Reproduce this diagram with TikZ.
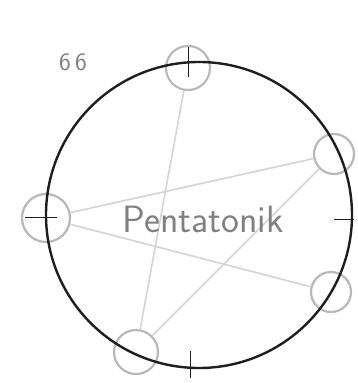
\documentclass[tikz,border=0pt]{standalone}
\usepackage{fontspec}
\usepackage{tikz}
\usetikzlibrary{positioning}

\definecolor{pencil}{HTML}{B8B8B8}
\definecolor{faint}{HTML}{D4D4D4}
\definecolor{ink}{HTML}{1E1E1E}
\definecolor{script}{HTML}{808080}

\tikzset{
	tone/.style={circle, draw=pencil, line width=2.2pt, minimum size=44pt, inner sep=0pt},
	chord/.style={faint, line width=1.6pt},
	tick/.style={ink, line width=1pt}
}

\begin{document}
\begin{tikzpicture}[x=1pt,y=-1pt]
	\useasboundingbox (0,0) rectangle (358,383);
	
	% the five tones
	\node[tone] (top) at (188,68) {};
	\node[tone, minimum size=40pt] (ur) at (334,154) {};
	\node[tone, minimum size=48pt] (lft) at (46,218) {};
	\node[tone, minimum size=40pt] (lr) at (331,292) {};
	\node[tone] (bl) at (136,352) {};
	
	% open star
	\draw[chord] (top) -- (bl);
	\draw[chord] (bl) -- (ur);
	\draw[chord] (ur) -- (lft);
	\draw[chord] (lft) -- (lr);
	
	% main circle
	\draw[ink, line width=2.4pt] (199,215) circle (153);
	
	% ticks
	\coordinate (t1) at (188,47);
	\coordinate (t2) at (188,77);
	\draw[tick] (t1) -- (t2);
	\coordinate (l1) at (25,217);
	\coordinate (l2) at (57,217);
	\draw[tick] (l1) -- (l2);
	\coordinate (r1) at (334,219);
	\coordinate (r2) at (354,219);
	\draw[tick] (r1) -- (r2);
	\coordinate (b1) at (190,351);
	\coordinate (b2) at (190,378);
	\draw[tick] (b1) -- (b2);
	
	\node[script, font=\sffamily\fontsize{38}{38}\selectfont] (name) at (203,219) {Pentatonik};
	\node[script, font=\sffamily\fontsize{25}{25}\selectfont] (num) at (73,62) {6\,6};
	
\end{tikzpicture}
\end{document}
